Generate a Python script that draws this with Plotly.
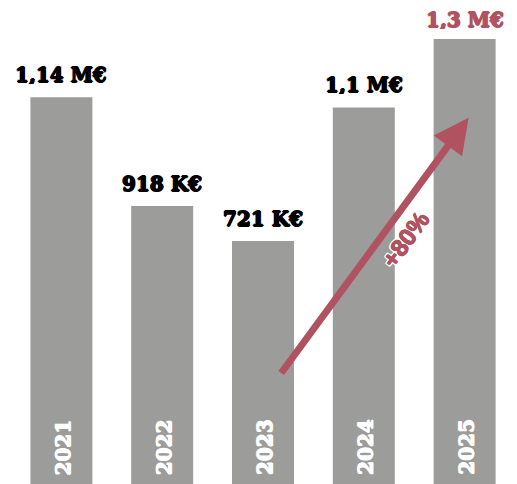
import plotly.graph_objects as go

years = ["2021", "2022", "2023", "2024", "2025"]
bar_values = [1.13, 0.812, 0.71, 1.10, 1.30]  # bar heights (M€)
value_labels = ["1,14 M€", "918 K€", "721 K€", "1,1 M€", "1,3 M€"]
label_colors = ["#000000", "#000000", "#000000", "#000000", "#b0525f"]
growth_label = "+80%"
arrow_from = (2.17, 0.32)
arrow_to = (4.04, 1.07)
growth_pos = (3.415, 0.713)

BAR = "#9c9c9b"
RED = "#b0525f"
SERIF = "DejaVu Serif"


def thick(c, d=0.8):
    pts = [(d, 0), (-d, 0), (0, d), (0, -d)]
    return [f"{x}px {y}px 0 {c}" for x, y in pts]


def halo(c, d=1.6):
    pts = [(d, 0), (-d, 0), (0, d), (0, -d), (d, d), (-d, -d), (d, -d), (-d, d)]
    return [f"{x}px {y}px 0 {c}" for x, y in pts]


fig = go.Figure()
fig.add_trace(go.Bar(x=list(range(len(years))), y=bar_values, marker_color=BAR,
                     marker_line_width=0, hoverinfo="skip"))

ann = []
n = len(years)
for i, (v, lab, c) in enumerate(zip(bar_values, value_labels, label_colors)):
    ann.append(dict(x=i, y=v, text=f"<b>{lab}</b>", showarrow=False, xanchor="center",
                    yanchor="bottom", yshift=12 if i < n - 1 else 9, height=18,
                    borderpad=0, valign="middle",
                    font=dict(family=SERIF, size=20, color=c, shadow=", ".join(thick(c)))))
    ann.append(dict(x=i, y=0, text=f"<b>{years[i]}</b>", showarrow=False, textangle=-90,
                    xanchor="center", yanchor="bottom", yshift=7, xshift=2,
                    font=dict(family=SERIF, size=20, color="white",
                              shadow=", ".join(thick("white", 0.6)))))

ann.append(dict(x=arrow_to[0], y=arrow_to[1], ax=arrow_from[0], ay=arrow_from[1],
                xref="x", yref="y", axref="x", ayref="y", text="", showarrow=True,
                arrowhead=2, arrowsize=1.0, arrowwidth=7, arrowcolor=RED))
ann.append(dict(x=growth_pos[0], y=growth_pos[1], text=f"<b>{growth_label}</b>",
                showarrow=False, textangle=-54,
                font=dict(family="Liberation Sans", size=24, color=RED,
                          shadow=", ".join(thick(RED, 0.5) + halo("white")))))

fig.update_layout(
    width=509, height=476,
    margin=dict(l=3, r=2, t=0, b=0),
    paper_bgcolor="white", plot_bgcolor="white",
    bargap=0.385, showlegend=False,
    annotations=ann,
    xaxis=dict(range=[-0.5, 4.5], visible=False, fixedrange=True),
    yaxis=dict(range=[0, 1.3906], visible=False, fixedrange=True),
)
fig.write_html("out.html", config={"displayModeBar": False})
